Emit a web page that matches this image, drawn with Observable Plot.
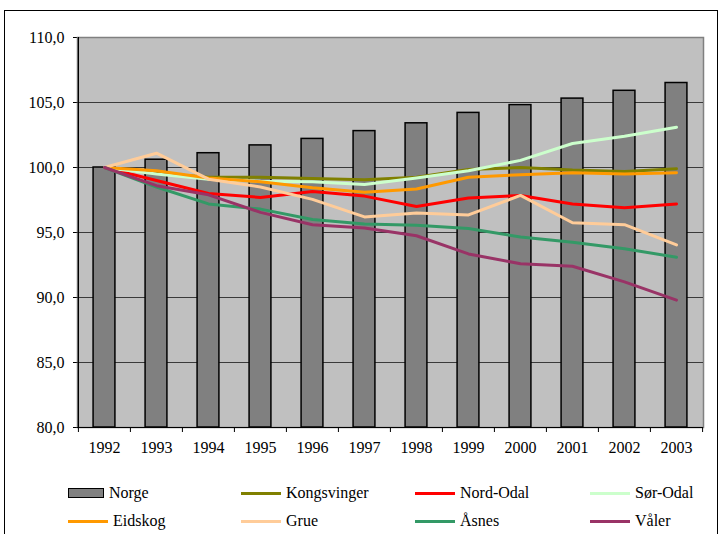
<!DOCTYPE html>
<html>
<head>
<meta charset="utf-8">
<script src="https://cdn.jsdelivr.net/npm/d3@7"></script>
<script src="https://cdn.jsdelivr.net/npm/@observablehq/plot@0.6"></script>
<style>
  html, body { margin: 0; padding: 0; background: #fff; }
  #wrap { position: relative; width: 723px; height: 534px; overflow: hidden; font-family: 'Liberation Serif', 'Times New Roman', Times, 'DejaVu Serif', serif; }
  #frame { position: absolute; left: 4px; top: 10px; width: 714px; height: 540px; border: 1px solid #000; box-sizing: border-box; }
  #chart { position: absolute; left: 0; top: 0; }
  #chart svg text { font-family: 'Liberation Serif', 'Times New Roman', Times, 'DejaVu Serif', serif; }
  .item { position: absolute; height: 20px; display: flex; align-items: center; font-size: 16px; color: #000; white-space: nowrap; }
  .sw-line { width: 40px; height: 3px; }
  .sw-bar { width: 34px; height: 8px; background: #808080; border: 1.5px solid #000; }
  .item span { margin-left: 5px; }
</style>
</head>
<body>
<div id="wrap">
  <div id="frame"></div>
  <div id="chart"></div>
  <div id="legend"></div>
</div>
<script>
const years = ["1992","1993","1994","1995","1996","1997","1998","1999","2000","2001","2002","2003"];
const norge       = [100, 100.6, 101.1, 101.7, 102.2, 102.8, 103.4, 104.2, 104.8, 105.3, 105.9, 106.5];
const kongsvinger = [100, 99.55, 99.25, 99.25, 99.15, 99.05, 99.25, 99.85, 100.0, 99.8, 99.7, 99.9];
const nordOdal    = [100, 99.0, 98.0, 97.7, 98.15, 97.8, 97.0, 97.65, 97.85, 97.2, 96.9, 97.2];
const sorOdal     = [100, 99.5, 99.1, 98.95, 98.9, 98.7, 99.2, 99.75, 100.55, 101.85, 102.4, 103.1];
const eidskog     = [100, 99.75, 99.2, 98.9, 98.45, 98.1, 98.35, 99.25, 99.45, 99.6, 99.5, 99.6];
const grue        = [100, 101.1, 99.1, 98.5, 97.55, 96.2, 96.5, 96.35, 97.85, 95.75, 95.6, 94.05];
const asnes       = [100, 98.5, 97.2, 96.8, 96.0, 95.65, 95.55, 95.3, 94.65, 94.25, 93.75, 93.1];
const valer       = [100, 98.6, 97.9, 96.55, 95.6, 95.35, 94.75, 93.35, 92.6, 92.4, 91.2, 89.8];
const seriesNames = ["Kongsvinger", "Nord-Odal", "Sør-Odal", "Eidskog", "Grue", "Åsnes", "Våler"];
const seriesValues = [kongsvinger, nordOdal, sorOdal, eidskog, grue, asnes, valer];
const seriesColors = ["#808000", "#ff0000", "#ccffcc", "#ff9900", "#ffcc99", "#339966", "#993366"];
const yTicks = [80, 85, 90, 95, 100, 105, 110];
const barName = "Norge";
const barColor = "#808080";

const W = 723, H = 470, ML = 77, MR = 20, MT = 37, MB = 43;
const step = (W - ML - MR) / years.length;
const barInset = (step - 22) / 2;

const barData = years.map((y, i) => ({year: y, value: norge[i]}));
const lineData = seriesNames.flatMap((s, k) => years.map((y, i) => ({series: s, year: y, value: seriesValues[k][i]})));

const chart = Plot.plot({
  width: W, height: H,
  marginLeft: ML, marginRight: MR, marginTop: MT, marginBottom: MB,
  style: {fontFamily: "'Liberation Serif', 'Times New Roman', Times, 'DejaVu Serif', serif", fontSize: "16px", background: "transparent", color: "#000"},
  x: {type: "band", domain: years, padding: 0, label: null, tickSize: 0, tickPadding: 14},
  y: {domain: [80, 110], ticks: yTicks, label: null, tickSize: 4, tickPadding: 9,
      tickFormat: d => d.toFixed(1).replace(".", ",")},
  color: {domain: seriesNames, range: seriesColors},
  marks: [
    Plot.frame({fill: "#c0c0c0", stroke: "#808080", strokeWidth: 1.5}),
    Plot.ruleY(yTicks.slice(1, -1), {stroke: "#3a3a3a", strokeWidth: 1.2}),
    Plot.barY(barData, {x: "year", y1: 80, y2: "value", fill: barColor, stroke: "#000", strokeWidth: 1.5,
      insetLeft: barInset, insetRight: barInset}),
    Plot.line(lineData, {x: "year", y: "value", z: "series", stroke: "series", strokeWidth: 3, strokeLinejoin: "round"}),
    Plot.ruleY([80], {stroke: "#000", strokeWidth: 1.2}),
    Plot.ruleX([years[0]], {y1: 80, y2: 110, dx: -step / 2, stroke: "#000", strokeWidth: 1.2}),
    Plot.ruleX(years, {y1: 80, y2: 80, insetBottom: -5, dx: -step / 2, stroke: "#000"}),
    Plot.ruleX([years[years.length - 1]], {y1: 80, y2: 80, insetBottom: -5, dx: step / 2, stroke: "#000"})
  ]
});
document.getElementById("chart").appendChild(chart);

// legend
const legend = document.getElementById("legend");
const items = [{name: barName, color: barColor, bar: true}].concat(seriesNames.map((s, k) => ({name: s, color: seriesColors[k]})));
const colLeft = [68, 241, 415, 590];
const rowTop = [483, 511];
items.forEach((it, i) => {
  const d = document.createElement("div");
  d.className = "item";
  d.style.left = colLeft[i % 4] + "px";
  d.style.top = rowTop[Math.floor(i / 4)] + "px";
  const sw = document.createElement("div");
  if (it.bar) { sw.className = "sw-bar"; }
  else { sw.className = "sw-line"; sw.style.background = it.color; }
  const t = document.createElement("span");
  t.textContent = it.name;
  d.appendChild(sw); d.appendChild(t);
  legend.appendChild(d);
});
</script>
</body>
</html>
